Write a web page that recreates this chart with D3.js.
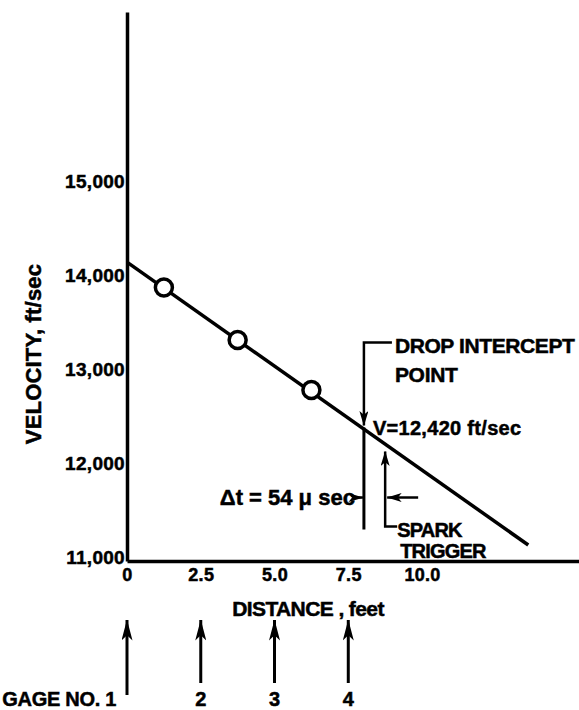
<!DOCTYPE html>
<html>
<head>
<meta charset="utf-8">
<script src="https://cdn.jsdelivr.net/npm/d3@7"></script>
<style>
  body { margin: 0; background: #fff; }
  svg text { font-family: "Liberation Sans", "DejaVu Sans", sans-serif; font-weight: bold; fill: #000; stroke: #000; stroke-width: 0.5px; }
</style>
</head>
<body>
<div id="chart"></div>
<script>
// Measured points (mid-way between gages), ft and ft/sec
const distance = [1.25, 3.75, 6.25];
const velocity = [13910, 13350, 12820];

// Fitted straight line, end points
const fitDistance = [0, 13.6];
const fitVelocity = [14180, 11170];

// Drop intercept and spark trigger
const interceptDistance = 8.03;
const interceptVelocity = 12420;
const sparkDistance = 8.75;

// Axis ticks
const xTicks = [0, 2.5, 5.0, 7.5, 10.0];
const yTicks = [11000, 12000, 13000, 14000, 15000];

// Gage positions
const gageDistance = [0, 2.5, 5.0, 7.5];
const gageLabels = ["GAGE NO. 1", "2", "3", "4"];

const width = 579, height = 710;

const svg = d3.select("#chart")
  .append("svg")
    .attr("width", width)
    .attr("height", height);

const x = d3.scaleLinear().domain([0, 15.32]).range([127, 579]);
const y = d3.scaleLinear().domain([11000, 16840]).range([561, 12]);

// Arrow markers
const defs = svg.append("defs");
function marker(id, len, half) {
  defs.append("marker")
    .attr("id", id)
    .attr("viewBox", `0 0 ${len} ${half * 2}`)
    .attr("refX", len - 0.5).attr("refY", half)
    .attr("markerWidth", len).attr("markerHeight", half * 2)
    .attr("markerUnits", "userSpaceOnUse")
    .attr("orient", "auto")
    .append("path")
      .attr("d", `M0,0 L${len},${half} L0,${half * 2} L${len * 0.25},${half} Z`)
      .attr("fill", "#000");
}
marker("arrow", 15, 4.5);
marker("arrowBig", 21, 5.5);

// Y axis
const yAxis = svg.append("g")
  .attr("transform", `translate(${x(0)},0)`)
  .call(d3.axisLeft(y).tickValues(yTicks).tickSize(0).tickPadding(2).tickFormat(d3.format(",")));
yAxis.select(".domain").attr("stroke", "#000").attr("stroke-width", 3.5);
yAxis.selectAll("text")
  .attr("dy", "0.15em")
  .style("font-size", "19px")
  .attr("letter-spacing", "0.3");

// X axis
const xAxis = svg.append("g")
  .attr("transform", `translate(0,${y(11000)})`)
  .call(d3.axisBottom(x).tickValues(xTicks).tickSize(0).tickPadding(7)
    .tickFormat(d => d === 0 ? "0" : d3.format(".1f")(d)));
xAxis.select(".domain").attr("stroke", "#000").attr("stroke-width", 3.5);
xAxis.selectAll("text")
  .style("font-size", "18px")
  .attr("letter-spacing", "0.3");

// Axis titles
svg.append("text")
  .attr("x", 308).attr("y", 616)
  .attr("text-anchor", "middle")
  .style("font-size", "21px")
  .attr("letter-spacing", "-0.6")
  .text("DISTANCE , feet");

svg.append("text")
  .attr("transform", "translate(41,354) rotate(-90)")
  .attr("text-anchor", "middle")
  .style("font-size", "22px")
  .attr("letter-spacing", "0.2")
  .text("VELOCITY, ft/sec");

// Fit line
const line = d3.line().x(d => x(d[0])).y(d => y(d[1]));
svg.append("path")
  .datum(d3.zip(fitDistance, fitVelocity))
  .attr("fill", "none")
  .attr("stroke", "#000")
  .attr("stroke-width", 3.5)
  .attr("d", line);

// Data points
svg.selectAll("circle.pt")
  .data(d3.zip(distance, velocity))
  .join("circle")
    .attr("class", "pt")
    .attr("cx", d => x(d[0]))
    .attr("cy", d => y(d[1]))
    .attr("r", 8.5)
    .attr("fill", "#fff")
    .attr("stroke", "#000")
    .attr("stroke-width", 3.5);

// Drop intercept annotation
const ix = x(interceptDistance), iy = y(interceptVelocity);
svg.append("path")
  .attr("d", `M${ix + 28},${iy - 85} H${ix} V${iy - 2}`)
  .attr("fill", "none").attr("stroke", "#000").attr("stroke-width", 2.5)
  .attr("marker-end", "url(#arrow)");
svg.append("line")
  .attr("x1", ix).attr("x2", ix)
  .attr("y1", iy).attr("y2", iy + 102)
  .attr("stroke", "#000").attr("stroke-width", 3);
svg.append("text")
  .attr("x", ix + 31).attr("y", iy - 75)
  .style("font-size", "21px")
  .attr("letter-spacing", "-0.4")
  .text("DROP INTERCEPT");
svg.append("text")
  .attr("x", ix + 31).attr("y", iy - 46)
  .style("font-size", "21px")
  .attr("letter-spacing", "-0.3")
  .text("POINT");
svg.append("text")
  .attr("x", ix + 9).attr("y", iy + 7)
  .style("font-size", "20px")
  .attr("letter-spacing", "0.3")
  .text("V=12,420  ft/sec");

// Spark trigger annotation
const sx = x(sparkDistance);
svg.append("path")
  .attr("d", `M${sx + 12},${iy + 99} H${sx} V${iy + 24}`)
  .attr("fill", "none").attr("stroke", "#000").attr("stroke-width", 2.5)
  .attr("marker-end", "url(#arrow)");
svg.append("text")
  .attr("x", sx + 12).attr("y", iy + 109)
  .style("font-size", "20px")
  .attr("letter-spacing", "-0.8")
  .text("SPARK");
svg.append("text")
  .attr("x", sx + 15).attr("y", iy + 130)
  .style("font-size", "20px")
  .attr("letter-spacing", "-0.8")
  .text("TRIGGER");

// Delta t arrows
const dy = iy + 70;
svg.append("line")
  .attr("x1", ix - 10).attr("x2", ix - 1)
  .attr("y1", dy).attr("y2", dy)
  .attr("stroke", "#000").attr("stroke-width", 2.5)
  .attr("marker-end", "url(#arrow)");
svg.append("line")
  .attr("x1", sx + 33).attr("x2", sx + 2)
  .attr("y1", dy).attr("y2", dy)
  .attr("stroke", "#000").attr("stroke-width", 2.5)
  .attr("marker-end", "url(#arrow)");
svg.append("text")
  .attr("x", ix - 9).attr("y", dy + 7)
  .attr("text-anchor", "end")
  .style("font-size", "22px")
  .attr("letter-spacing", "0")
  .text("Δt = 54 μ sec");

// Gage arrows
const gy1 = 620;
svg.selectAll("line.gage")
  .data(gageDistance)
  .join("line")
    .attr("class", "gage")
    .attr("x1", d => x(d)).attr("x2", d => x(d))
    .attr("y1", (d, i) => i === 0 ? 695 : 683).attr("y2", gy1)
    .attr("stroke", "#000").attr("stroke-width", 3)
    .attr("marker-end", "url(#arrowBig)");
svg.selectAll("text.gage")
  .data(gageDistance)
  .join("text")
    .attr("class", "gage")
    .attr("x", (d, i) => i === 0 ? x(d) - 11 : x(d))
    .attr("y", 706)
    .attr("text-anchor", (d, i) => i === 0 ? "end" : "middle")
    .style("font-size", "20px")
    .attr("letter-spacing", "-0.3")
    .text((d, i) => gageLabels[i]);
</script>
</body>
</html>
